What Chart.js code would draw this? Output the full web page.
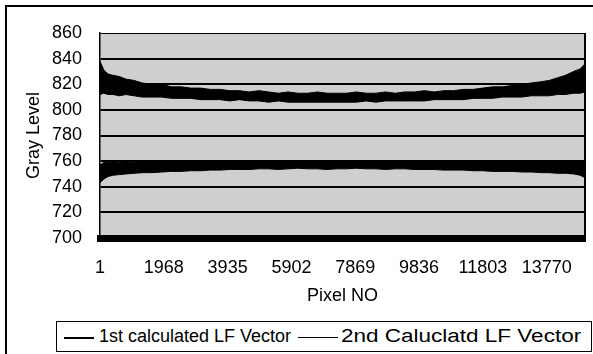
<!DOCTYPE html>
<html>
<head>
<meta charset="utf-8">
<script src="https://cdn.jsdelivr.net/npm/chart.js@4/dist/chart.umd.min.js"></script>
<style>
  html, body { margin:0; padding:0; background:#fff; }
  #wrap { position:relative; width:593px; height:354px; overflow:hidden; background:#fff; font-family:'Liberation Sans', Arial, sans-serif; }
  #c { position:absolute; left:0; top:0; }
  .frameL { position:absolute; left:5px; top:5px; width:2px; height:349px; background:#000; }
  .frameT { position:absolute; left:5px; top:5px; width:588px; height:2px; background:#000; }
  #legend { position:absolute; left:56px; top:321px; width:536px; height:31px; border:1px solid #000; box-sizing:border-box; background:#fff; }
  .lg-line { position:absolute; top:15px; height:1px; background:#000; }
  .lg-text { position:absolute; top:4px; font-size:18px; line-height:21px; color:#000; white-space:nowrap; transform-origin:0 50%; }
</style>
</head>
<body>
<div id="wrap">
  <canvas id="c" width="593" height="354"></canvas>
  <div class="frameL"></div>
  <div class="frameT"></div>
  <div id="legend"></div>
</div>
<script>
// ---- data ----
const PIXEL_NO = [1,120,250,400,600,800,1050,1300,1600,1900,2200,2500,2800,3100,3400,3700,4000,4300,4600,4900,5200,5500,5800,6100,6400,6700,7000,7300,7600,7900,8200,8500,8800,9100,9400,9700,10000,10300,10600,10900,11200,11500,11800,12100,12400,12700,13000,13300,13600,13850,14100,14350,14600,14800,14950];
const X_TICKS = [1,1968,3935,5902,7869,9836,11803,13770];
const SERIES_NAMES = ['1st calculated LF Vector', '2nd Caluclatd LF Vector'];
// upper / lower edge of the dense noisy trace of each vector
const S1_HIGH = [838,831,828,827,826,824,823,821,820,820,818,818,817,817,816,816,815,815,814,815,814,813,814,813,813,814,813,813,813,814,813,813,814,813,814,814,815,814,815,815,816,816,817,818,818,819,820,821,822,823,825,827,830,832,836];
const S1_LOW  = [812,813,812,812,811,812,811,810,810,810,809,809,809,808,808,808,807,808,807,807,806,807,806,806,806,806,806,806,806,806,807,806,807,807,807,807,807,808,808,808,808,809,809,809,810,810,810,811,811,811,812,812,813,813,814];
const S2_HIGH = [757,759,759,759.5,759,759.5,759,760,759.5,760,759.5,760,759.5,760,760,759.5,760,760,759.5,760,760,759.5,760,760,760,759.5,760,760,759.5,760,760,760,759.5,760,760,760,759.5,760,760,760,760,759.5,760,760,760,760,759.5,760,760,760,760,760,759.5,760,760];
const S2_LOW  = [743,746,748,749,749.5,750,750.5,751,751,751.5,752,752,752.5,752.5,753,753,753.5,753.5,753.5,754,754,753.5,754,754.5,754,754,753.5,754,754,754.5,754,754,753.5,754,754,753.5,753.5,753.5,753,753,753,752.5,752.5,752,752,752,751.5,751.5,751,751,750.5,750.5,750,749,747];
const Y_MIN = 700, Y_MAX = 860, Y_STEP = 20;
const X_MAX = 14950;

const pts = (ys) => PIXEL_NO.map((p, i) => ({x: p, y: ys[i]}));

const plotBg = {
  id: 'plotBg',
  beforeDraw(chart) {
    const {ctx, chartArea: a} = chart;
    ctx.save();
    ctx.fillStyle = '#cfcfcf';
    ctx.fillRect(a.left, a.top, a.right - a.left, a.bottom - a.top);
    ctx.restore();
  },
  afterDraw(chart) {
    const {ctx, chartArea: a} = chart;
    ctx.save();
    ctx.strokeStyle = '#000';
    ctx.lineWidth = 2;
    ctx.beginPath();
    ctx.moveTo(a.right, a.top); ctx.lineTo(a.right, a.bottom);
    ctx.stroke();
    ctx.restore();
  }
};

Chart.defaults.font.family = "'Liberation Sans', Arial, sans-serif";
Chart.defaults.color = '#000';

const band = (label, ys, fill) => ({
  label, data: pts(ys), borderColor: '#000', backgroundColor: '#000',
  borderWidth: 1, pointRadius: 0, tension: 0, fill: fill
});

new Chart(document.getElementById('c'), {
  type: 'line',
  data: {
    datasets: [
      band(SERIES_NAMES[0] + ' low', S1_LOW, false),
      band(SERIES_NAMES[0], S1_HIGH, '-1'),
      band(SERIES_NAMES[1] + ' low', S2_LOW, false),
      band(SERIES_NAMES[1], S2_HIGH, '-1')
    ]
  },
  options: {
    responsive: false,
    animation: false,
    devicePixelRatio: 1,
    layout: { padding: { top: 33, right: 8, bottom: 44, left: 0 } },
    plugins: { legend: { display: false }, tooltip: { enabled: false } },
    scales: {
      x: {
        type: 'linear', min: 1, max: X_MAX,
        afterBuildTicks: (s) => { s.ticks = X_TICKS.map(v => ({value: v})); },
        afterFit: (s) => { s.height = 72; },
        grid: { display: false, drawTicks: false },
        border: { display: true, color: '#000', width: 7 },
        ticks: { autoSkip: false, maxRotation: 0, padding: 19, font: { size: 18 }, callback: (v) => String(v) },
        title: { display: true, text: 'Pixel NO', font: { size: 18 }, padding: { top: 0, bottom: 3 } }
      },
      y: {
        min: Y_MIN, max: Y_MAX,
        afterFit: (s) => { s.width = 100; },
        grid: {
          drawTicks: false,
          color: (c) => (c.tick && c.tick.value === Y_MIN) ? 'rgba(0,0,0,0)' : '#000',
          lineWidth: (c) => (c.tick && c.tick.value === Y_MAX) ? 1 : 2
        },
        border: { display: true, color: '#000', width: 1.5 },
        ticks: { stepSize: Y_STEP, padding: 18, font: { size: 18 } },
        title: { display: true, text: 'Gray Level', font: { size: 18 }, padding: { top: 23, bottom: 0 } }
      }
    }
  },
  plugins: [plotBg]
});

// HTML legend built from series names
const lg = document.getElementById('legend');
const LEG_POS = [[7, 30, 42, 1], [241, 40, 284, 1.25]];
SERIES_NAMES.forEach((name, i) => {
  const [lx, lw, tx, sx] = LEG_POS[i];
  const line = document.createElement('div');
  line.className = 'lg-line';
  line.style.left = lx + 'px'; line.style.width = lw + 'px';
  line.style.height = i === 0 ? '2px' : '1px';
  lg.appendChild(line);
  const t = document.createElement('div');
  t.className = 'lg-text';
  t.style.left = tx + 'px';
  t.style.transform = 'scaleX(' + sx + ')';
  t.textContent = name;
  lg.appendChild(t);
});
</script>
</body>
</html>
